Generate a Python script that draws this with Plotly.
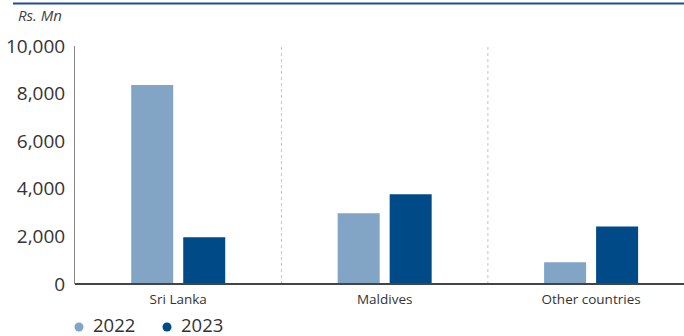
import plotly.graph_objects as go

categories = ["Sri Lanka", "Maldives", "Other countries"]
series_names = ["2022", "2023"]
values_2022 = [8360, 2970, 910]
values_2023 = [1960, 3770, 2420]
y_tick_vals = [0, 2000, 4000, 6000, 8000, 10000]
y_tick_text = ["0", "2,000", "4,000", "6,000", "8,000", "10,000"]
unit_label = "Rs. Mn"

colors = ["#82A5C6", "#004A87"]
W, H = 684, 336
ML, MR, MT, MB = 75, 0, 46, 52
PW = W - ML - MR
PH = H - MT - MB

def px_x(p):
    return (p - ML) / PW

def px_y(p):
    return (H - MB - p) / PH

fig = go.Figure()
xs = list(range(len(categories)))
bar_w = 0.2035
offsets = [-0.2277, 0.0242]
for name, vals, col, off in zip(series_names, [values_2022, values_2023], colors, offsets):
    fig.add_trace(go.Bar(
        x=xs, y=vals, name=name, marker=dict(color=col, line=dict(width=0)),
        width=bar_w, offset=off, showlegend=False, hoverinfo="x+y",
    ))

shapes = []
for sx in [0.5, 1.5]:
    shapes.append(dict(type="line", xref="x", yref="paper", x0=sx, x1=sx, y0=0, y1=1,
                       line=dict(color="#C4C4C4", width=1, dash="dot"), layer="below"))
shapes.append(dict(type="line", xref="paper", yref="paper", x0=px_x(13), x1=px_x(W + 5),
                   y0=px_y(3.5), y1=px_y(3.5), line=dict(color="#1F4E8C", width=2)))
shapes.append(dict(type="line", xref="paper", yref="paper", x0=0, x1=1, y0=0, y1=0,
                   line=dict(color="#444444", width=2)))

annotations = [dict(text="<i>" + unit_label + "</i>", xref="paper", yref="paper", x=px_x(16), y=px_y(15),
                    xanchor="left", yanchor="middle", showarrow=False,
                    font=dict(family="Open Sans", size=15, color="#444444"))]

legend_dot_x = [79, 167]
legend_text_x = [91, 179]
ly = 326
for name, col, dx, tx in zip(series_names, colors, legend_dot_x, legend_text_x):
    shapes.append(dict(type="circle", xref="paper", yref="paper", xsizemode="pixel", ysizemode="pixel",
                       xanchor=px_x(dx), yanchor=px_y(ly + 1), x0=-4.5, x1=4.5, y0=-4.5, y1=4.5,
                       fillcolor=col, line=dict(width=0)))
    annotations.append(dict(text=name, xref="paper", yref="paper", x=px_x(tx), y=px_y(ly - 2),
                            xanchor="left", yanchor="middle", showarrow=False,
                            font=dict(family="Open Sans", size=18.5, color="#333333")))

fig.update_layout(
    width=W, height=H,
    margin=dict(l=ML, r=MR, t=MT, b=MB, pad=0),
    paper_bgcolor="white", plot_bgcolor="white",
    shapes=shapes, annotations=annotations,
    xaxis=dict(tickvals=xs, ticktext=categories, range=[-0.5, 2.45], showgrid=False,
               zeroline=False, showline=False, ticks="", ticklabelstandoff=5,
               tickfont=dict(family="Open Sans", size=13.5, color="#333333")),
    yaxis=dict(range=[0, 10000], tickvals=y_tick_vals, ticktext=y_tick_text, showgrid=False,
               zeroline=False, showline=True, linecolor="#888888", linewidth=1, ticks="",
               ticklabelstandoff=5, automargin=False,
               tickfont=dict(family="Open Sans", size=19, color="#333333")),
    showlegend=False,
)

fig.write_html("out.html", config={"displayModeBar": False},
               post_script="document.body.style.margin='0';document.body.style.overflow='hidden';")
